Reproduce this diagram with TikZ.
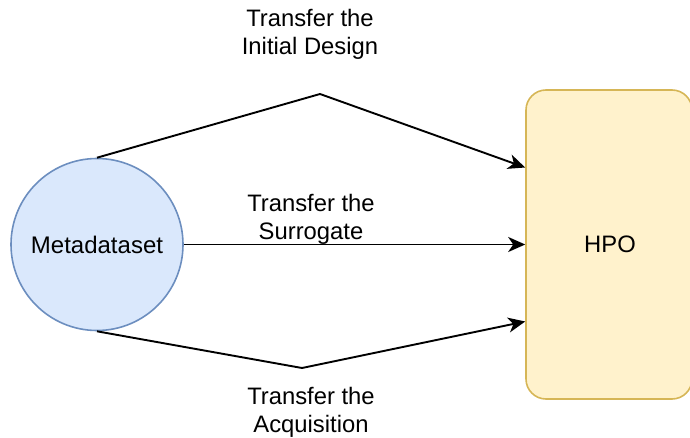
\documentclass[tikz,border=0pt]{standalone}
\usepackage{fontspec}
\setmainfont{Liberation Sans}
\usetikzlibrary{arrows.meta}
\definecolor{bluefill}{HTML}{DAE8FC}
\definecolor{bluestroke}{HTML}{6C8EBF}
\definecolor{yelfill}{HTML}{FFF2CC}
\definecolor{yelstroke}{HTML}{D6B656}
\begin{document}
\begin{tikzpicture}[x=1pt,y=-1pt,
  lbl/.style={align=center,font=\fontsize{23.8}{28}\selectfont,inner sep=0pt},
  conn/.style={draw=black,line width=1.9pt,-{Stealth[length=17pt,width=15pt,inset=5pt]}}]
\useasboundingbox (0,0) rectangle (690,438);
\node[circle,draw=bluestroke,fill=bluefill,line width=1.6pt,minimum size=172pt,inner sep=0pt,font=\fontsize{24}{28}\selectfont] (meta) at (97,244.5) {Metadataset};
\node[rectangle,rounded corners=20pt,draw=yelstroke,fill=yelfill,line width=1.6pt,minimum width=166pt,minimum height=309pt,inner sep=0pt] (hpo) at (609,244.5) {};
\node[font=\fontsize{23.8}{28}\selectfont,inner sep=0pt] (hpolbl) at (610,244.5) {HPO};
\coordinate (p1) at (320,94);
\coordinate (p2) at (302,368);
\draw[conn] (meta.north) -- (p1) -- ([yshift=77pt]hpo.west);
\draw[conn] (meta.east) -- (hpo.west);
\draw[conn] (meta.south) -- (p2) -- ([yshift=-77pt]hpo.west);
\node[lbl] (t1) at (310,34) {Transfer the\\Initial Design};
\node[lbl] (t2) at (311,219.5) {Transfer the\\Surrogate};
\node[lbl] (t3) at (311,412) {Transfer the\\Acquisition};
\end{tikzpicture}
\end{document}
